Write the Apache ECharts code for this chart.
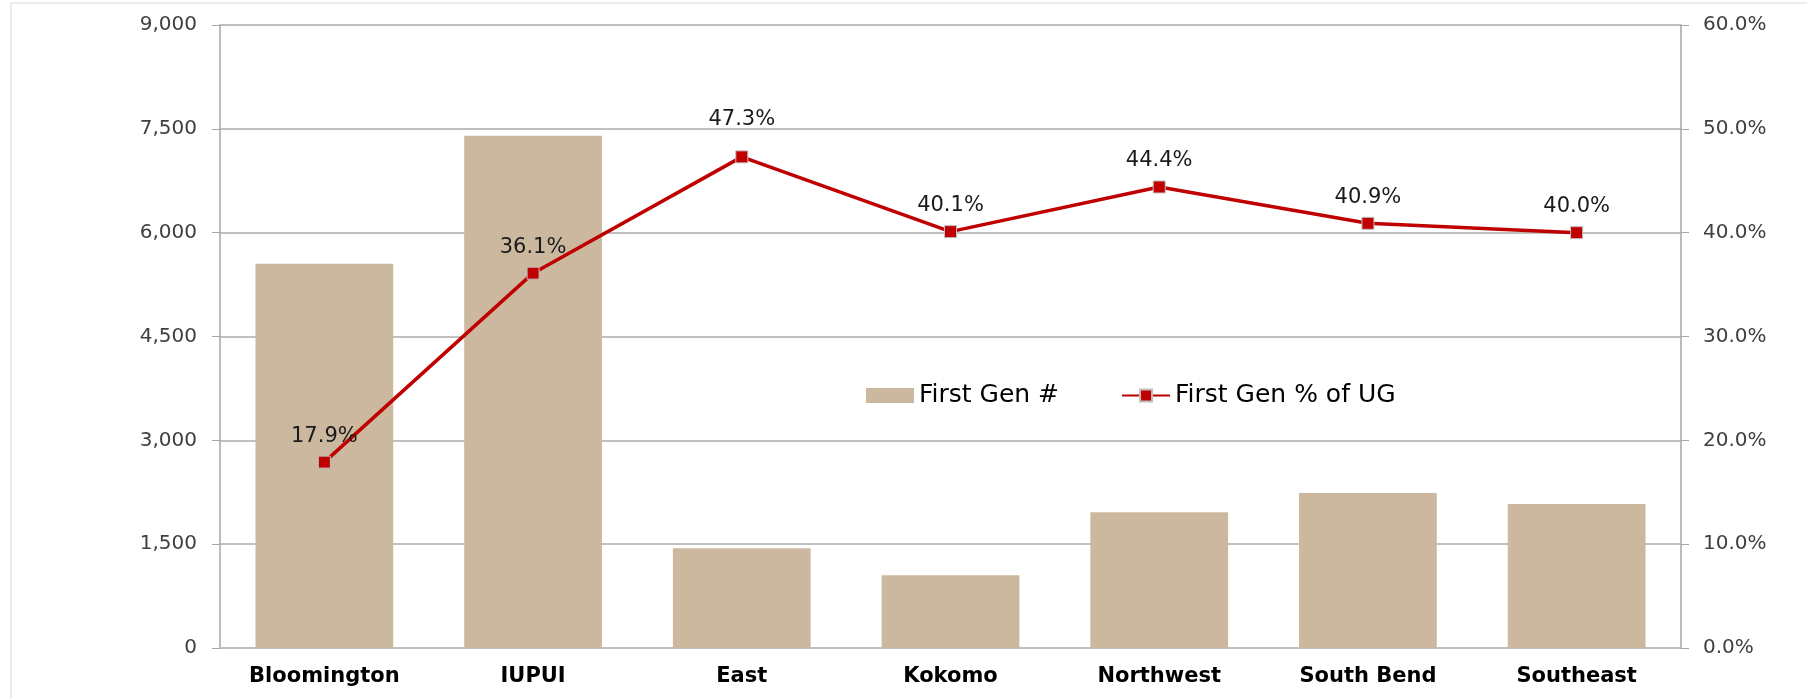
<!DOCTYPE html>
<html>
<head>
<meta charset="utf-8">
<script src="https://cdn.jsdelivr.net/npm/echarts@6/dist/echarts.min.js"></script>
<style>
    html, body {margin: 0; padding: 0; background: #fff;}
    #chart {width: 1807px; height: 698px;}
</style>
</head>
<body>
<div id="chart"></div>
<script>
const campuses = ['Bloomington', 'IUPUI', 'East', 'Kokomo', 'Northwest', 'South Bend', 'Southeast'];
const firstGenCount = [5550, 7400, 1440, 1050, 1960, 2240, 2080];
const firstGenPct = [17.9, 36.1, 47.3, 40.1, 44.4, 40.9, 40.0];
const countTicks = {min: 0, max: 9000, interval: 1500};
const pctTicks = {min: 0, max: 60, interval: 10};

const chart = echarts.init(document.getElementById('chart'));

const pctData = firstGenPct.map((v, i) => {
    // Excel nudged the peak label a bit higher
    if (i === 2) return {value: v, label: {distance: 20}};
    return v;
});

const option = {
    animation: false,
    textStyle: {fontFamily: 'DejaVu Sans'},
    graphic: [{
        type: 'rect',
        shape: {x: 11, y: 3, width: 1800, height: 700},
        style: {fill: 'none', stroke: '#D9D9D9', lineWidth: 1}
    }],
    legend: {
        left: 861,
        top: 378,
        itemWidth: 48,
        itemHeight: 15,
        itemGap: 62,
        textStyle: {fontFamily: 'DejaVu Sans', fontSize: 25, color: '#000'},
        data: [
            {name: 'First Gen #', icon: 'rect'},
            {name: 'First Gen % of UG'}
        ]
    },
    grid: {left: 220, right: 126, top: 25, bottom: 50},
    xAxis: {
        type: 'category',
        data: campuses,
        axisLine: {lineStyle: {color: '#BFBFBF', width: 2}},
        axisTick: {length: 8, lineStyle: {color: '#A6A6A6'}},
        axisLabel: {
            margin: 18,
            fontFamily: 'DejaVu Sans',
            fontWeight: 'bold',
            fontSize: 21,
            color: '#000'
        }
    },
    yAxis: [{
        type: 'value',
        min: countTicks.min,
        max: countTicks.max,
        interval: countTicks.interval,
        axisLine: {show: true, lineStyle: {color: '#A6A6A6', width: 1.5}},
        axisTick: {show: true, length: 8, lineStyle: {color: '#A6A6A6'}},
        splitLine: {lineStyle: {color: '#C0C0C0', width: 2}},
        axisLabel: {
            margin: 23,
            fontSize: 20,
            color: '#404040',
            formatter: v => v.toLocaleString('en-US')
        }
    }, {
        type: 'value',
        min: pctTicks.min,
        max: pctTicks.max,
        interval: pctTicks.interval,
        position: 'right',
        axisLine: {show: true, lineStyle: {color: '#A6A6A6', width: 1.5}},
        axisTick: {show: true, length: 8, lineStyle: {color: '#A6A6A6'}},
        splitLine: {show: false},
        axisLabel: {
            margin: 22,
            fontSize: 20,
            color: '#404040',
            formatter: v => v.toFixed(1) + '%'
        }
    }],
    series: [{
        name: 'First Gen #',
        type: 'bar',
        barWidth: '66%',
        itemStyle: {color: '#CBB89E'},
        data: firstGenCount
    }, {
        name: 'First Gen % of UG',
        type: 'line',
        yAxisIndex: 1,
        symbol: 'rect',
        symbolSize: 12,
        lineStyle: {color: '#C00000', width: 3.5},
        itemStyle: {color: '#C00000', borderColor: '#BFBFBF', borderWidth: 1},
        label: {
            show: true,
            position: 'top',
            distance: 9,
            fontFamily: 'DejaVu Sans',
            fontSize: 21,
            color: '#1a1a1a',
            formatter: p => p.value.toFixed(1) + '%'
        },
        data: pctData
    }]
};

chart.setOption(option);
</script>
</body>
</html>
